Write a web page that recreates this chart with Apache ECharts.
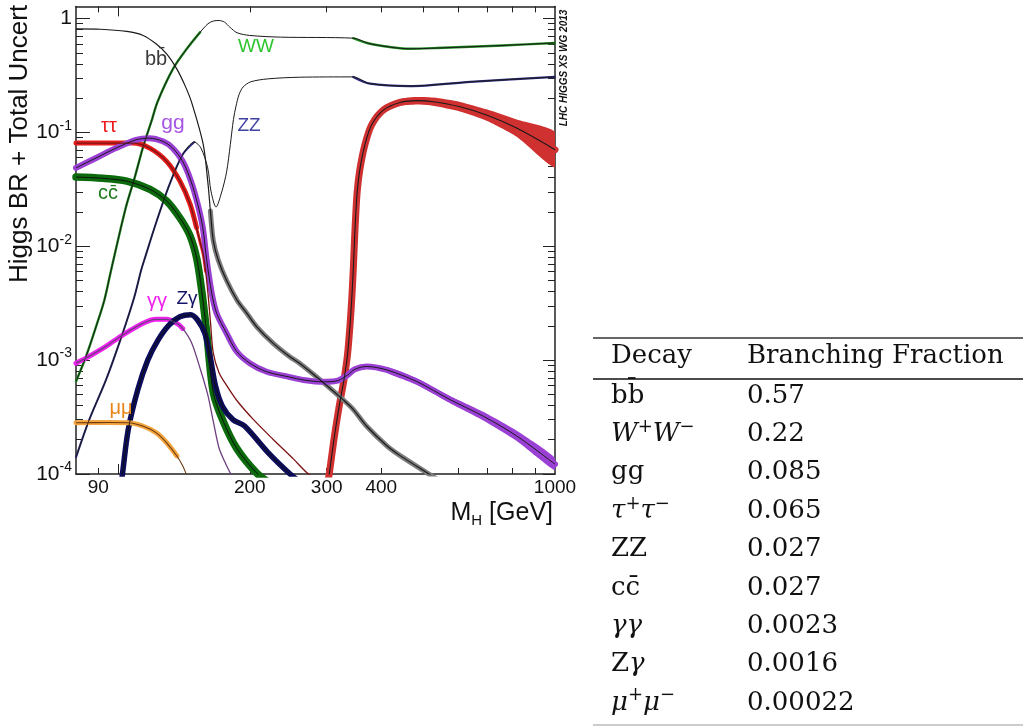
<!DOCTYPE html>
<html><head><meta charset="utf-8">
<script src="https://cdn.jsdelivr.net/npm/echarts@6/dist/echarts.min.js"></script>
<style>html,body{margin:0;padding:0;background:#fff}#c{width:1023px;height:726px}</style>
</head><body><div id="c"></div>
<script>
// ---------------- data (M_H in GeV, branching ratio) ----------------
const bbM = [80, 91, 104.5, 114, 122, 129, 136, 142, 147, 156.5, 160.5, 162.5, 165, 169.5, 177, 187, 197, 207.5, 226, 247, 260, 290, 327, 345, 370, 412, 442, 508, 550];
const bbV = [0.81, 0.805, 0.77, 0.71, 0.60, 0.49, 0.363, 0.26, 0.186, 0.078, 0.035, 0.0204, 0.0112, 0.0075, 0.0050, 0.00336, 0.00257, 0.00196, 0.00141, 0.00107, 0.00094, 0.00067, 0.00045, 0.00037, 0.000264, 0.000177, 0.000145, 0.000103, 0.000085];

const wwM = [80, 84.3, 88.9, 92.9, 96.2, 104, 109, 114, 119, 123, 133.5, 143.5, 154, 160.5, 165, 170, 175, 180, 187, 200, 235, 345, 377, 465, 536, 760, 1000];
const wwV = [6.5e-4, 1.07e-3, 1.96e-3, 3.36e-3, 6.1e-3, 0.0218, 0.040, 0.075, 0.124, 0.186, 0.363, 0.542, 0.759, 0.90, 0.95, 0.96, 0.93, 0.84, 0.75, 0.71, 0.686, 0.672, 0.60, 0.542, 0.55, 0.58, 0.61];

const zzM = [80, 85.8, 93.7, 102.3, 108.8, 112.7, 114.7, 122, 131, 140.4, 149.3, 154.6, 160.2, 163, 167.4, 172.5, 177, 180.5, 183.5, 186, 189, 193, 201, 220, 260, 345, 377, 465, 640, 1000];
const zzV = [1.4e-4, 3.0e-4, 6.7e-4, 1.72e-3, 3.58e-3, 6.1e-3, 7.6e-3, 0.016, 0.0349, 0.0638, 0.0822, 0.0728, 0.0488, 0.0305, 0.0221, 0.030, 0.045, 0.078, 0.13, 0.17, 0.215, 0.25, 0.278, 0.295, 0.305, 0.307, 0.268, 0.255, 0.278, 0.307];

const tauM = [80, 91, 108, 118, 129, 138.4, 146, 151, 154, 156.5, 158.5, 160.5, 162.5, 165, 170, 177, 187, 204, 226, 252, 270, 290];
const tauV = [0.0805, 0.0805, 0.0805, 0.0728, 0.0557, 0.0373, 0.0234, 0.0146, 0.0108, 0.0085, 0.0060, 0.0038, 0.0022, 0.00115, 7.8e-4, 6.0e-4, 4.4e-4, 3.0e-4, 2.02e-4, 1.35e-4, 1.03e-4, 8.5e-5];

const ggM = [80, 88.9, 98.8, 109.8, 117.8, 126.4, 133.2, 140.4, 146.7, 152, 156.1, 159.4, 163.7, 168, 177, 186.7, 200, 218.7, 247, 265, 295, 318, 335, 348, 370, 412, 482, 575, 685, 817, 1000];
const ggV = [0.0488, 0.0596, 0.0728, 0.0861, 0.0889, 0.0834, 0.0728, 0.0557, 0.0373, 0.0234, 0.0146, 0.0075, 0.00384, 0.00257, 0.00172, 0.00119, 9.4e-4, 7.9e-4, 7.1e-4, 6.7e-4, 6.45e-4, 6.6e-4, 7.4e-4, 8.3e-4, 8.8e-4, 8.2e-4, 6.5e-4, 4.5e-4, 3.22e-4, 2.16e-4, 1.22e-4];
const ggUnc = [0.025, 0.025, 0.025, 0.025, 0.025, 0.025, 0.025, 0.025, 0.025, 0.025, 0.025, 0.025, 0.025, 0.025, 0.025, 0.025, 0.025, 0.025, 0.025, 0.025, 0.025, 0.025, 0.025, 0.025, 0.025, 0.025, 0.028, 0.032, 0.038, 0.045, 0.055];

const ccM = [80, 92, 104.5, 118.2, 129, 138.4, 145.9, 151.2, 155.2, 159.4, 165, 173.9, 186.7, 207.5, 226];
const ccV = [0.0405, 0.0395, 0.0373, 0.0316, 0.025, 0.0177, 0.0124, 0.0078, 0.0041, 0.00173, 5.2e-4, 2.9e-4, 1.68e-4, 1.02e-4, 8e-5];

const gaM = [80, 84.3, 93.7, 102.3, 113.7, 122, 129, 136.2, 140.4, 147.3, 154.3, 160.2, 165, 170, 175, 181, 188];
const gaV = [9.4e-4, 1.04e-3, 1.32e-3, 1.66e-3, 2.1e-3, 2.28e-3, 2.28e-3, 2.1e-3, 1.9e-3, 1.41e-3, 8.2e-4, 5.0e-4, 2.9e-4, 1.7e-4, 1.3e-4, 1.0e-4, 8e-5];

const zgM = [101, 102.3, 105.4, 110.8, 116.8, 123.3, 130.6, 138.3, 146.5, 152, 157.8, 162.3, 167, 173.1, 183, 194.6, 220, 247.3, 260];
const zgV = [7e-5, 1.03e-4, 2.47e-4, 5.5e-4, 1.0e-3, 1.5e-3, 2.03e-3, 2.4e-3, 2.5e-3, 2.24e-3, 1.72e-3, 1.07e-3, 5.9e-4, 3.94e-4, 3.0e-4, 2.64e-4, 1.55e-4, 1.0e-4, 8.6e-5];

const muM = [80, 95, 105.4, 113.7, 122, 128.9, 136.2, 140.4, 143.6, 146.3];
const muV = [2.82e-4, 2.83e-4, 2.82e-4, 2.64e-4, 2.31e-4, 1.89e-4, 1.44e-4, 1.18e-4, 9.7e-5, 8.5e-5];

const ttM = [302.6, 304.1, 311.8, 320.1, 328.7, 334.8, 339.3, 342.8, 345.5, 347.4, 349.6, 352.5, 357.5, 367.1, 380.3, 404.5, 441.6, 482.4, 526.3, 605.8, 697.2, 816.9, 1000];
const ttV = [9e-5, 1.0e-4, 2.02e-4, 3.84e-4, 6.73e-4, 1.11e-3, 2.03e-3, 3.71e-3, 6.78e-3, 0.0112, 0.0185, 0.0306, 0.0475, 0.078, 0.1164, 0.157, 0.183, 0.19, 0.186, 0.168, 0.142, 0.109, 0.0705];
const ttUnc = [0.03, 0.03, 0.03, 0.03, 0.03, 0.03, 0.03, 0.03, 0.03, 0.03, 0.03, 0.03, 0.025, 0.028, 0.03, 0.03, 0.03, 0.032, 0.036, 0.042, 0.05, 0.075, 0.155];

// axis ticks / labels
const xLabelValues = [90, 200, 300, 400, 1000];
const xShortTicks = [90, 200, 300, 400, 500, 600, 700, 800, 900];
const xLongTicks = [100];
const yDecades = [1e-4, 1e-3, 1e-2, 1e-1, 1];
const yMantissas = [2, 3, 4, 5, 6, 7, 8, 9];

// table
const tableDecays = ['{r|bb\u0304}', '{i|W}{sup|+}{i|W}{sup|\u2212}', '{r|gg}', '{i|\u03c4}{sup|+}{i|\u03c4}{sup|\u2212}', '{r|ZZ}', '{r|cc\u0304}', '{i|\u03b3\u03b3}', '{r|Z}{i|\u03b3}', '{i|\u03bc}{sup|+}{i|\u03bc}{sup|\u2212}'];
const tableFractions = ['0.57', '0.22', '0.085', '0.065', '0.027', '0.027', '0.0023', '0.0016', '0.00022'];

// ---------------- build ----------------
const L = Math.log10;
const X_MIN = 80, X_MAX = 1000, Y_MIN = 1e-4, Y_MAX = 1.2775;
const SANS = '"Liberation Sans", Arial, Helvetica, sans-serif';
const SERIF = '"DejaVu Serif", serif';
const yMinorTicks = [];
yDecades.slice(0, 4).forEach(d => yMantissas.forEach(m => yMinorTicks.push(d * m)));

function pts(M, V, lo, hi) {
  const out = [];
  for (let i = 0; i < M.length; i++) if (M[i] >= lo && M[i] <= hi) out.push([L(M[i]), L(V[i])]);
  return out;
}
const series = [];
const SM = 0.3;
function band(M, V, lo, hi, color, width) {
  series.push({ type: 'line', data: pts(M, V, lo, hi), symbol: 'none', smooth: SM, z: 3, silent: true,
    lineStyle: { color: color, width: width, cap: 'round', join: 'round' } });
}
function core(M, V, color, width) {
  series.push({ type: 'line', data: pts(M, V, 0, 1e9), symbol: 'none', smooth: SM, z: 5, silent: true,
    lineStyle: { color: color, width: width, join: 'round' } });
}
function area(M, V, U, from, color) {
  series.push({ type: 'custom', coordinateSystem: 'cartesian2d', clip: true, silent: true, z: 2,
    data: [[L(M[from]), L(V[from])]],
    renderItem: function (p, api) {
      const up = [], lo = [];
      for (let i = from; i < M.length; i++) {
        up.push(api.coord([L(M[i]), L(V[i]) + U[i]]));
        lo.push(api.coord([L(M[i]), L(V[i]) - U[i]]));
      }
      return { type: 'polygon', shape: { points: up.concat(lo.reverse()), smooth: 0.2 }, style: { fill: color } };
    } });
}

// bands
area(ttM, ttV, ttUnc, 12, '#cf3030');
area(ggM, ggV, ggUnc, 25, '#9b40d4');
band(ttM, ttV, 0, 1e9, '#cf3030', 7);
band(bbM, bbV, 162, 1e9, '#7d7d7d', 5);
band(wwM, wwV, 0, 154, '#1f8c1f', 2.4);
band(wwM, wwV, 345, 1e9, '#1f8c1f', 2.4);
band(zzM, zzV, 0, 150, '#2b2b7c', 2);
band(zzM, zzV, 345, 1e9, '#2b2b7c', 2.2);
band(ccM, ccV, 0, 1e9, '#0b6a0b', 7.5);
band(tauM, tauV, 0, 152, '#e41c1c', 5);
band(tauM, tauV, 150, 159, '#e41c1c', 3);
band(ggM, ggV, 0, 1e9, '#9b40d4', 6);
band(gaM, gaV, 0, 141, '#f022f0', 5);
band(zgM, zgV, 0, 1e9, '#0c0c5c', 5.5);
band(muM, muV, 0, 137, '#f5a540', 5);
// central lines
core(bbM, bbV, '#1a1a1a', 1.2);
core(wwM, wwV, '#1a1a1a', 1);
core(zzM, zzV, '#1a1a1a', 1);
core(tauM, tauV, '#7d1414', 1.3);
core(ggM, ggV, '#1a1a1a', 1);
core(ccM, ccV, '#111111', 1);
core(gaM, gaV, '#6e3f80', 1.3);
core(zgM, zgV, '#111111', 1);
core(muM, muV, '#6a3a10', 1.1);
core(ttM, ttV, '#1a1a1a', 1.1);

function xAx(pos, ticks, len, showLine, showLabel) {
  return {
    type: 'value', gridIndex: 0, position: pos, min: L(X_MIN), max: L(X_MAX),
    axisLine: { show: showLine, onZero: false, lineStyle: { color: '#222', width: 1.5 } },
    axisTick: { show: true, inside: true, length: len, customValues: ticks.map(L), lineStyle: { color: '#222', width: 1 } },
    axisLabel: showLabel ? {
      show: true, customValues: xLabelValues.map(L), margin: 4,
      fontFamily: SANS, fontSize: 19, color: '#111',
      formatter: v => String(Math.round(Math.pow(10, v)))
    } : { show: false },
    splitLine: { show: false }
  };
}
function yAx(pos, ticks, len, showLine, showLabel) {
  return {
    type: 'value', gridIndex: 0, position: pos, min: L(Y_MIN), max: L(Y_MAX),
    axisLine: { show: showLine, onZero: false, lineStyle: { color: '#222', width: 1.5 } },
    axisTick: { show: true, inside: true, length: len, customValues: ticks.map(L), lineStyle: { color: '#222', width: 1 } },
    axisLabel: showLabel ? {
      show: true, customValues: yDecades.map(L), margin: 4,
      formatter: v => { const e = Math.round(v); return e === 0 ? '{b|1}' : '{b|10}{s|' + e + '}'; },
      rich: {
        b: { fontFamily: SANS, fontSize: 21, lineHeight: 21, color: '#111', padding: [8, 0, 0, 0], verticalAlign: 'bottom' },
        s: { fontFamily: SANS, fontSize: 14, lineHeight: 14, color: '#111', padding: [0, 0, 10, 0], verticalAlign: 'bottom' }
      }
    } : { show: false },
    splitLine: { show: false }
  };
}

const graphic = [];
function label(txt, x, y, color, size) {
  graphic.push({ type: 'text', x: x, y: y, silent: true, z: 10,
    style: { text: txt, fill: color, font: size + 'px ' + SANS, align: 'center', verticalAlign: 'middle' } });
}
label('bb\u0304', 156, 59, '#3a3a3a', 20);
label('WW', 256, 47, '#2ec42e', 19);
label('\u03c4\u03c4', 109, 126, '#ee1c1c', 20);
label('gg', 173, 123, '#a555e6', 21);
label('ZZ', 249, 126, '#4242a2', 19);
label('cc\u0304', 108, 193, '#1e7a1e', 20);
label('\u03b3\u03b3', 157, 301, '#f020f0', 20);
label('Z\u03b3', 187, 299, '#141466', 19);
label('\u03bc\u03bc', 121, 408, '#e8861a', 20);

// axis titles & watermark
graphic.push({ type: 'text', x: 20, y: 283, rotation: Math.PI / 2, silent: true,
  style: { text: 'Higgs BR + Total Uncert', fill: '#111', font: '26px ' + SANS, align: 'left', verticalAlign: 'middle' } });
graphic.push({ type: 'text', x: 553, y: 513, silent: true,
  style: { text: '{m|M}{s|H}{m| [GeV]}', align: 'right', verticalAlign: 'middle',
    rich: { m: { fontFamily: SANS, fontSize: 25, lineHeight: 30, fill: '#111' },
            s: { fontFamily: SANS, fontSize: 15, lineHeight: 15, fill: '#111', verticalAlign: 'bottom' } } } });
graphic.push({ type: 'text', x: 564, y: 68, rotation: Math.PI / 2, silent: true,
  style: { text: 'LHC HIGGS XS WG 2013', fill: '#111', font: 'italic bold 10px ' + SANS, align: 'center', verticalAlign: 'middle' } });

// table
graphic.push({ type: 'line', silent: true, shape: { x1: 593, y1: 338, x2: 1023, y2: 338 }, style: { stroke: '#666', lineWidth: 2 } });
graphic.push({ type: 'line', silent: true, shape: { x1: 593, y1: 379, x2: 1023, y2: 379 }, style: { stroke: '#111', lineWidth: 1.3 } });
graphic.push({ type: 'line', silent: true, shape: { x1: 593, y1: 725, x2: 1023, y2: 725 }, style: { stroke: '#bbb', lineWidth: 1.5 } });
const tblRich = {
  r: { fontFamily: SERIF, fontSize: 26, lineHeight: 32, fill: '#111' },
  i: { fontFamily: SERIF, fontSize: 26, lineHeight: 32, fontStyle: 'italic', fill: '#111' },
  sup: { fontFamily: SERIF, fontSize: 18, lineHeight: 18, fill: '#111', verticalAlign: 'top' }
};
graphic.push({ type: 'text', x: 611, y: 356, silent: true, style: { text: 'Decay', font: '26px ' + SERIF, fill: '#111', align: 'left', verticalAlign: 'middle' } });
graphic.push({ type: 'text', x: 747, y: 356, silent: true, style: { text: 'Branching Fraction', font: '26px ' + SERIF, fill: '#111', align: 'left', verticalAlign: 'middle' } });
tableDecays.forEach((d, k) => {
  const y = 396 + k * 38.35;
  graphic.push({ type: 'text', x: 611, y: y, silent: true, style: { text: d, rich: tblRich, align: 'left', verticalAlign: 'middle' } });
  graphic.push({ type: 'text', x: 747, y: y, silent: true, style: { text: tableFractions[k], font: '26px ' + SERIF, fill: '#111', align: 'left', verticalAlign: 'middle' } });
});

const chart = echarts.init(document.getElementById('c'), null, { renderer: 'canvas' });
chart.setOption({
  animation: false,
  backgroundColor: '#fff',
  grid: { left: 76, top: 4, width: 479, height: 470, containLabel: false },
  xAxis: [xAx('bottom', xShortTicks, 6, true, true), xAx('bottom', xLongTicks, 10, false, false),
          xAx('top', xShortTicks, 6, true, false), xAx('top', xLongTicks, 10, false, false)],
  yAxis: [yAx('left', yDecades, 14, true, true), yAx('left', yMinorTicks, 7, false, false),
          yAx('right', yDecades, 12, true, false), yAx('right', yMinorTicks, 7, false, false)],
  series: series,
  graphic: graphic
});
</script></body></html>
